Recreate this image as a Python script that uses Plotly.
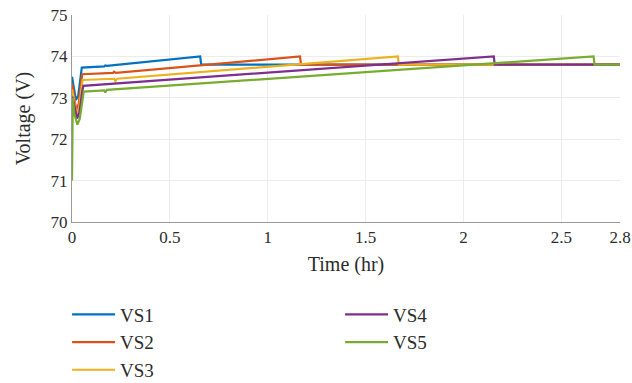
import plotly.graph_objects as go

# Battery voltage profiles (hours, volts)
t_vs1 = [0.0, 0.006, 0.02, 0.032, 0.045, 0.05, 0.165, 0.17, 0.178, 0.655, 0.66, 2.8]
v_vs1 = [73.51, 73.35, 72.95, 73.05, 73.6, 73.73, 73.76, 73.78, 73.77, 74.0, 73.8, 73.8]

t_vs2 = [0.0, 0.006, 0.022, 0.034, 0.048, 0.052, 0.21, 0.215, 0.225, 1.165, 1.17, 2.8]
v_vs2 = [73.35, 73.2, 72.7, 72.85, 73.45, 73.57, 73.6, 73.63, 73.6, 74.0, 73.8, 73.8]

t_vs3 = [0.0, 0.006, 0.024, 0.036, 0.05, 0.054, 0.215, 0.222, 0.23, 1.665, 1.67, 2.8]
v_vs3 = [73.2, 73.05, 72.6, 72.75, 73.3, 73.43, 73.46, 73.4, 73.46, 74.0, 73.8, 73.8]

t_vs4 = [0.0, 0.006, 0.026, 0.038, 0.052, 0.058, 2.155, 2.16, 2.8]
v_vs4 = [73.03, 72.95, 72.5, 72.65, 73.15, 73.29, 74.0, 73.8, 73.8]

t_vs5 = [0.0, 0.002, 0.004, 0.012, 0.028, 0.04, 0.054, 0.06, 0.165, 0.17, 0.178, 2.665, 2.67, 2.8]
v_vs5 = [71.0, 72.9, 73.0, 72.6, 72.35, 72.5, 73.0, 73.15, 73.18, 73.13, 73.19, 74.0, 73.8, 73.8]

series = [
    ("VS1", t_vs1, v_vs1, "#0072BD", 1),
    ("VS2", t_vs2, v_vs2, "#D95319", 3),
    ("VS3", t_vs3, v_vs3, "#EDB120", 5),
    ("VS4", t_vs4, v_vs4, "#7E2F8E", 2),
    ("VS5", t_vs5, v_vs5, "#77AC30", 4),
]

x_ticks = [0, 0.5, 1, 1.5, 2, 2.5, 2.8]
x_tick_text = ["0", "0.5", "1", "1.5", "2", "2.5", "2.8"]
y_ticks = [70, 71, 72, 73, 74, 75]

fig = go.Figure()
for name, t, v, color, rank in series:
    fig.add_trace(go.Scatter(
        x=t, y=v, mode="lines", name=name, legendrank=rank,
        line=dict(color=color, width=2.2),
    ))

font_family = "Liberation Serif, Times New Roman, DejaVu Serif, serif"
fig.update_layout(
    width=632, height=383,
    margin=dict(l=72, r=12, t=15, b=161, autoexpand=False),
    paper_bgcolor="white", plot_bgcolor="white",
    font=dict(family=font_family, size=17, color="#2b2b2b"),
    showlegend=True,
    legend=dict(
        orientation="h", x=-0.009, y=-0.355, xanchor="left", yanchor="top",
        entrywidth=215, entrywidthmode="pixels",
        font=dict(family=font_family, size=19, color="#2b2b2b"),
        itemwidth=43, tracegroupgap=0, bgcolor="rgba(0,0,0,0)",
    ),
    xaxis=dict(
        range=[0, 2.8], tickvals=x_ticks, ticktext=x_tick_text,
        showgrid=True, gridcolor="#ececec", gridwidth=1,
        showline=True, linecolor="#9a9a9a", linewidth=1,
        zeroline=False, ticks="", title=dict(text="Time (hr)", standoff=10),
        tickfont=dict(size=17),
    ),
    yaxis=dict(
        range=[70, 75], tickvals=y_ticks,
        showgrid=True, gridcolor="#ececec", gridwidth=1,
        showline=True, linecolor="#9a9a9a", linewidth=1,
        zeroline=False, ticks="", title=dict(text="Voltage (V)", standoff=14),
        tickfont=dict(size=17),
    ),
)

fig.write_html("out.html")
